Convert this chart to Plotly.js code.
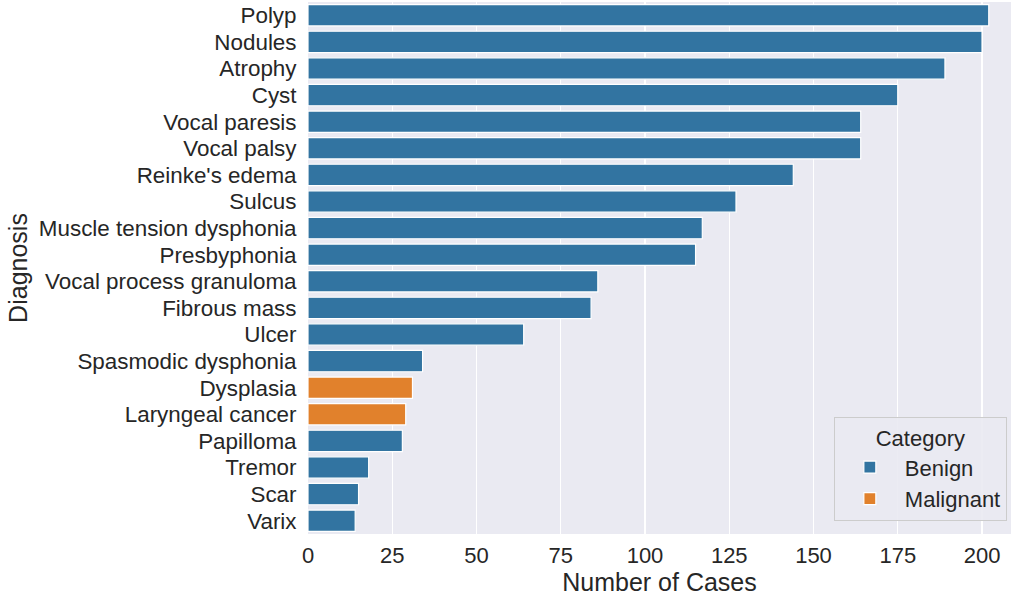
<!DOCTYPE html>
<html>
<head>
<meta charset="utf-8">
<script src="https://cdn.plot.ly/plotly-3.0.1.min.js"></script>
<style>html,body{margin:0;padding:0;background:#fff;}#chart{width:1011px;height:601px;}</style>
</head>
<body>
<div id="chart"></div>
<script>
const diagnoses = ["Polyp","Nodules","Atrophy","Cyst","Vocal paresis","Vocal palsy","Reinke's edema","Sulcus","Muscle tension dysphonia","Presbyphonia","Vocal process granuloma","Fibrous mass","Ulcer","Spasmodic dysphonia","Dysplasia","Laryngeal cancer","Papilloma","Tremor","Scar","Varix"];
const cases = [202,200,189,175,164,164,144,127,117,115,86,84,64,34,31,29,28,18,15,14];
const categories = ["Benign","Benign","Benign","Benign","Benign","Benign","Benign","Benign","Benign","Benign","Benign","Benign","Benign","Benign","Malignant","Malignant","Benign","Benign","Benign","Benign"];
const xTicks = [0,25,50,75,100,125,150,175,200];
const colors = {Benign:"#3274a1", Malignant:"#e1812c"};

const traces = ["Benign","Malignant"].map(cat => {
  const y = [], x = [];
  diagnoses.forEach((d,i) => { if (categories[i] === cat) { y.push(d); x.push(cases[i]); } });
  return {
    type: "bar", orientation: "h", name: cat, x: x, y: y,
    marker: {color: colors[cat], line: {color: "#ffffff", width: 1.2}},
    hoverinfo: "x+y"
  };
});

const font = {family: "Liberation Sans, Arial, sans-serif", color: "#262626"};
const layout = {
  width: 1011, height: 601,
  margin: {l: 308, r: 0, t: 2, b: 67},
  paper_bgcolor: "#ffffff",
  plot_bgcolor: "#eaeaf2",
  barmode: "overlay",
  bargap: 0.2,
  font: font,
  xaxis: {
    range: [0, 208.6],
    tickvals: xTicks,
    ticktext: xTicks.map(String),
    showgrid: true, gridcolor: "#ffffff", gridwidth: 1.3,
    zeroline: false, showline: false,
    ticks: "outside", ticklen: 2, tickcolor: "rgba(0,0,0,0)",
    tickfont: {size: 22, family: font.family, color: "#262626"},
    title: {text: "Number of Cases", font: {size: 25, family: font.family, color: "#262626"}, standoff: 6},
    automargin: false
  },
  yaxis: {
    type: "category",
    categoryorder: "array", categoryarray: diagnoses,
    tickmode: "array", tickvals: diagnoses, ticktext: diagnoses,
    autorange: "reversed",
    showgrid: false, zeroline: false, showline: false,
    ticks: "outside", ticklen: 6, tickcolor: "rgba(0,0,0,0)",
    tickfont: {size: 22.4, family: font.family, color: "#262626"},
    title: {text: "Diagnosis", font: {size: 25, family: font.family, color: "#262626"}, standoff: 4},
    automargin: false
  },
  legend: {
    x: 0.748, xanchor: "left",
    y: 0.025, yanchor: "bottom",
    bgcolor: "rgba(234,234,242,0.9)",
    bordercolor: "#cccccc", borderwidth: 1,
    font: {size: 22, family: font.family, color: "#262626"},
    title: {text: "Category", side: "top center", font: {size: 22, family: font.family, color: "#262626"}},
    itemwidth: 60,
    tracegroupgap: 6
  },
  showlegend: true
};

Plotly.newPlot("chart", traces, layout, {displayModeBar: false, staticPlot: true});
</script>
</body>
</html>
